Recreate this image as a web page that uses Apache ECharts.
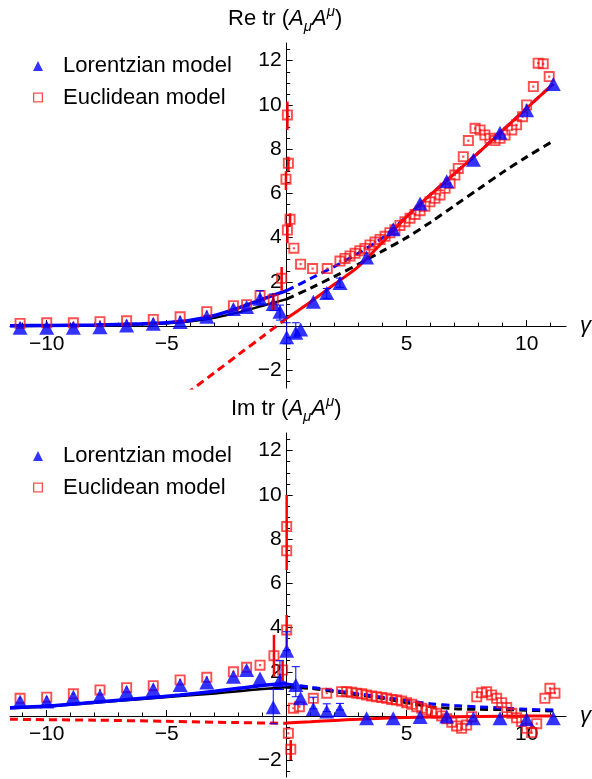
<!DOCTYPE html>
<html><head><meta charset="utf-8">
<script src="https://cdn.jsdelivr.net/npm/echarts@6/dist/echarts.min.js"></script>
<style>html,body{margin:0;padding:0;background:#fff}#c{width:592px;height:779px}</style>
</head><body><div id="c"></div>
<script>
// ---------------- data ----------------
const xMajorTicks = [-10, -5, 5, 10];
const xMinorTicks = [-11, -9, -8, -7, -6, -4, -3, -2, -1, 1, 2, 3, 4, 6, 7, 8, 9, 11];
const yMajorTicks = [-2, 2, 4, 6, 8, 10, 12];
const yMinorTicks = [-2.5, -1.5, -1, -0.5, 0.5, 1, 1.5, 2.5, 3, 3.5, 4.5, 5, 5.5, 6.5, 7, 7.5, 8.5, 9, 9.5, 10.5, 11, 11.5, 12.5];

// Lorentzian model (blue triangles), shared gamma values
const lorX   = [-11.11, -10, -8.89, -7.78, -6.67, -5.56, -4.44, -3.33, -2.22, -1.67, -1.11, -0.56, -0.28, 0, 0.38, 0.58, 1.11, 1.67, 2.22, 3.33, 4.44, 5.56, 6.67, 7.78, 8.89, 10, 11.11];
const lorReY = [-0.08, -0.08, -0.07, -0.05, 0.03, 0.1, 0.18, 0.42, 0.77, 0.86, 1.24, 1.0, 0.65, -0.5, -0.3, -0.15, 1.1, 1.5, 1.95, 3.1, 4.38, 5.54, 6.55, 7.52, 8.74, 9.76, 10.95];
const lorImY = [0.65, 0.65, 0.87, 0.9, 1.1, 1.21, 1.4, 1.51, 1.78, 2.08, 1.7, 0.4, 1.63, 2.95, 1.4, 0.8, 0.32, 0.2, 0.27, -0.1, -0.1, -0.05, -0.02, -0.1, -0.1, -0.15, -0.1];

const lorReErrX  = [-1.11, -0.56, -0.28, 0, 0.38, 1.67, 2.22];
const lorReErrLo = [1.0, 0.7, 0.27, -0.8, -0.5, 1.25, 1.75];
const lorReErrHi = [1.6, 1.45, 0.95, 0.15, 0.15, 1.7, 2.17];
const lorImErrX  = [-0.56, -0.28, 0, 0.38, 1.11, 1.67, 2.22];
const lorImErrLo = [-0.35, 1.2, 2.95, 0.87, 0.32, 0.2, 0.27];
const lorImErrHi = [1.2, 2.5, 3.81, 2.23, 0.85, 0.55, 0.57];

// Euclidean model (red squares)
const eucReX = [-11.11, -10, -8.89, -7.78, -6.67, -5.56, -4.44, -3.33, -2.22, -1.67, -1.11, -0.56, -0.21, -0.03, 0.03, 0.03, 0.07, 0.14, 0.3, 0.58, 1.08, 1.69,
  2.22, 2.43, 2.64, 2.85, 3.05, 3.26, 3.47, 3.68, 3.89, 4.10, 4.30, 4.51, 4.72, 4.93, 5.14, 5.35, 5.56, 5.76, 5.97, 6.18, 6.39, 6.60, 6.81, 7.01, 7.15,
  7.36, 7.57, 7.85, 8.06, 8.26, 8.47, 8.68, 8.89, 9.10, 9.38, 9.58, 9.83, 10.0, 10.28, 10.48, 10.69, 10.94];
const eucReY = [0.12, 0.15, 0.15, 0.2, 0.24, 0.3, 0.42, 0.65, 0.92, 0.97, 1.38, 1.2, 2.16, 6.64, 9.55, 4.34, 7.36, 4.83, 3.52, 2.8, 2.6, 2.6,
  2.94, 3.06, 3.17, 3.29, 3.41, 3.51, 3.67, 3.8, 3.92, 4.06, 4.22, 4.36, 4.55, 4.72, 4.88, 5.05, 5.22, 5.42, 5.62, 5.78, 5.93, 6.23, 6.46, 6.83, 7.13,
  7.66, 8.39, 8.94, 8.87, 8.64, 8.49, 8.39, 8.49, 8.64, 8.87, 9.1, 9.47, 10.0, 10.83, 11.89, 11.86, 11.28];
const eucReErrX  = [-0.56, -0.21, -0.03, 0.07, 0.03, 0.03, 0.14];
const eucReErrLo = [0.72, 1.6, 6.15, 7.0, 8.87, 3.75, 4.5];
const eucReErrHi = [1.5, 2.67, 7.0, 7.66, 10.15, 4.6, 5.1];

const eucImX = [-11.11, -10, -8.89, -7.78, -6.67, -5.56, -4.44, -3.33, -2.22, -1.67, -1.11, -0.53, -0.17, 0, 0, 0, 0.07, 0.17, 0.28, 0.53, 1.11, 1.67,
  2.29, 2.5, 2.71, 2.92, 3.13, 3.33, 3.54, 3.75, 3.96, 4.17, 4.38, 4.58, 4.79, 5.0, 5.21, 5.42, 5.63, 5.83, 6.04, 6.25, 6.46, 6.67, 6.88, 7.08, 7.29,
  7.5, 7.71, 7.92, 8.13, 8.33, 8.54, 8.75, 8.96, 9.17, 9.38, 9.58, 9.79, 10.0, 10.21, 10.42, 10.76, 10.97, 11.18];
const eucImY = [0.8, 0.85, 1.0, 1.18, 1.28, 1.37, 1.63, 1.75, 2.0, 2.2, 2.3, 2.73, 2.08, 3.89, 8.57, 7.47, -0.78, -1.51, 0.35, 0.42, 0.8, 1.03,
  1.1, 1.1, 1.07, 1.03, 1.0, 0.95, 0.9, 0.87, 0.84, 0.8, 0.75, 0.72, 0.68, 0.6, 0.53, 0.42, 0.35, 0.27, 0.2, 0.12, 0.0, -0.12, -0.28, -0.45, -0.56,
  -0.41, -0.03, 0.87, 1.05, 1.1, 0.95, 0.8, 0.6, 0.38, 0.12, -0.08, -0.25, -0.56, -0.75, -0.35, 0.8, 1.25, 1.03];
const eucImErrX  = [-0.53, -0.17, 0, 0, 0.17];
const eucImErrLo = [1.78, 1.6, 3.14, 6.6, -2.0];
const eucImErrHi = [3.67, 2.5, 4.57, 10.0, -1.09];

// Curves, real part
const reBlueSolidX   = [-11.53, -10, -8, -6, -5, -4, -3, -2, -1, 0];
const reBlueSolidY   = [0.02, 0.03, 0.05, 0.1, 0.15, 0.26, 0.48, 0.82, 1.22, 1.6];
const reBlackSolidX  = [-11.53, -10, -8, -6, -5, -4, -3, -2, -1, 0];
const reBlackSolidY  = [0.0, 0.01, 0.03, 0.08, 0.13, 0.22, 0.38, 0.62, 0.92, 1.22];
const reRedDashedX   = [-4.6, -3, -2, -1, 0];
const reRedDashedY   = [-3.4, -2.1, -1.28, -0.47, 0.35];
const reBlueDashedX  = [0, 1, 2, 3, 4, 5, 6, 7, 8, 9, 10, 11.11];
const reBlueDashedY  = [1.6, 2.15, 2.7, 3.3, 4.0, 4.95, 5.95, 6.9, 7.85, 8.85, 9.85, 10.95];
const reBlackDashedX = [0, 1, 2, 3, 4, 5, 6, 7, 8, 9, 10, 11];
const reBlackDashedY = [1.22, 1.72, 2.25, 2.8, 3.4, 4.0, 4.7, 5.45, 6.2, 6.95, 7.65, 8.3];
const reRedSolidX    = [0, 0.5, 1, 2, 3, 4, 5, 6, 7, 8, 9, 10, 11.11];
const reRedSolidY    = [0.35, 0.72, 1.1, 1.9, 2.7, 3.8, 4.95, 5.95, 6.9, 7.85, 8.85, 9.85, 10.95];

// Curves, imaginary part
const imBlueSolidX   = [-11.53, -10, -8, -6, -4.44, -3, -2, -1, 0];
const imBlueSolidY   = [0.37, 0.45, 0.62, 0.8, 0.95, 1.12, 1.25, 1.38, 1.48];
const imBlackSolidX  = [-11.53, -10, -8, -6, -4.44, -3, -2, -1, 0];
const imBlackSolidY  = [0.35, 0.43, 0.6, 0.77, 0.9, 1.02, 1.12, 1.22, 1.3];
const imRedDashedX   = [-11.53, -8, -5, -2, 0];
const imRedDashedY   = [-0.15, -0.19, -0.24, -0.3, -0.33];
const imBlueDashedX  = [0, 1, 2, 3, 4, 5, 6, 7, 8, 9, 10, 11.11];
const imBlueDashedY  = [1.45, 1.3, 1.15, 1.0, 0.85, 0.7, 0.55, 0.47, 0.41, 0.36, 0.3, 0.27];
const imBlackDashedX = [0, 1, 2, 3, 4, 5, 6, 7, 8, 9, 10, 11.11];
const imBlackDashedY = [1.3, 1.25, 1.1, 0.95, 0.8, 0.6, 0.42, 0.33, 0.3, 0.29, 0.26, 0.22];
const imRedSolidX    = [0, 1, 2, 3, 4, 5, 7, 9, 11.11];
const imRedSolidY    = [-0.32, -0.26, -0.2, -0.15, -0.1, -0.07, -0.03, -0.01, 0.0];

// ---------------- chart ----------------
const FONT = '"Liberation Sans", Arial, sans-serif';
const BLUE = '#0000ff', RED = '#ff0000';
const X_MIN = -11.53, X_MAX = 11.64;
const GRIDS = [
  { left: 10, top: 43, width: 556, height: 345, yMin: -2.8, yMax: 12.8 },
  { left: 10, top: 433, width: 556, height: 344, yMin: -2.76, yMax: 12.8 }
];
const SQ_SYMBOL = 'path://M0,0H10V10H0Z M1.7,1.7V8.3H8.3V1.7Z M4,4H6V6H4Z';
const SQ_ICON = 'path://M0,0H10V10H0Z M1.3,1.3V8.7H8.7V1.3Z';

function fmt(v) { return v < 0 ? '\u2212' + Math.abs(v) : String(v); }
function zip(xs, ys) { return xs.map((x, i) => [x, ys[i]]); }

// axis crossing: the x axis sits on y = 0, the y axis on x = 0
function xOffset(g) { return -(0 - g.yMin) / (g.yMax - g.yMin) * g.height; }
function yOffset(g) { return -(0 - X_MIN) / (X_MAX - X_MIN) * g.width; }

function mkX(gi, major) {
  const g = GRIDS[gi];
  return {
    type: 'value', gridIndex: gi, min: X_MIN, max: X_MAX, position: 'bottom', offset: xOffset(g),
    splitLine: { show: false },
    axisLine: { show: major, onZero: false, lineStyle: { color: '#000', width: 1 } },
    axisTick: { show: true, inside: true, length: major ? 6 : 3.5, customValues: major ? xMajorTicks : xMinorTicks, lineStyle: { color: '#000', width: 1 } },
    axisLabel: { show: major, customValues: xMajorTicks, formatter: fmt, fontSize: 21, fontFamily: FONT, color: '#000', margin: 8 },
    name: major ? 'γ' : '', nameLocation: 'end', nameGap: 14,
    nameTextStyle: { fontSize: 22, fontStyle: 'italic', fontFamily: FONT, color: '#000' }
  };
}
function mkY(gi, major) {
  const g = GRIDS[gi];
  return {
    type: 'value', gridIndex: gi, min: g.yMin, max: g.yMax, position: 'left', offset: yOffset(g),
    splitLine: { show: false },
    axisLine: { show: major, onZero: false, lineStyle: { color: '#000', width: 1 } },
    axisTick: { show: true, inside: true, length: major ? 6 : 3.5, customValues: major ? yMajorTicks : yMinorTicks, lineStyle: { color: '#000', width: 1 } },
    axisLabel: { show: major, customValues: yMajorTicks, formatter: fmt, fontSize: 21, fontFamily: FONT, color: '#000', margin: 5 }
  };
}
function lineS(xs, ys, color, width, dashed, ai) {
  return { type: 'line', xAxisIndex: ai, yAxisIndex: ai, data: zip(xs, ys), showSymbol: false, symbol: 'none',
    smooth: 0.3, clip: true, silent: true, z: 2,
    lineStyle: { color, width, type: dashed ? [8, 5] : 'solid', cap: 'butt' }, itemStyle: { color } };
}
function errS(xs, lo, hi, color, width, cap, ai) {
  return {
    type: 'custom', xAxisIndex: ai, yAxisIndex: ai, z: 5, silent: true,
    encode: { x: 0, y: [1, 2] },
    data: xs.map((x, i) => [x, lo[i], hi[i]]),
    renderItem: function (params, api) {
      const x = api.value(0);
      const a = api.coord([x, api.value(1)]);
      const b = api.coord([x, api.value(2)]);
      const st = { stroke: color, lineWidth: width };
      const ch = [{ type: 'line', shape: { x1: a[0], y1: a[1], x2: b[0], y2: b[1] }, style: st }];
      if (cap) {
        const cs = { stroke: color, lineWidth: 1 };
        ch.push({ type: 'line', shape: { x1: a[0] - cap, y1: a[1], x2: a[0] + cap, y2: a[1] }, style: cs });
        ch.push({ type: 'line', shape: { x1: b[0] - cap, y1: b[1], x2: b[0] + cap, y2: b[1] }, style: cs });
      }
      return { type: 'group', children: ch };
    }
  };
}
function eucS(xs, ys, ai) {
  return { type: 'scatter', name: 'Euclidean model', xAxisIndex: ai, yAxisIndex: ai, data: zip(xs, ys),
    symbol: SQ_SYMBOL, symbolSize: 11, z: 3, itemStyle: { color: 'rgba(255,15,15,0.92)' } };
}
function lorS(xs, ys, ai) {
  return { type: 'scatter', name: 'Lorentzian model', xAxisIndex: ai, yAxisIndex: ai, data: zip(xs, ys),
    symbol: 'triangle', symbolSize: [15, 14], z: 4, itemStyle: { color: BLUE } };
}
function titleText(prefix) {
  return '{n|' + prefix + ' tr (}{i|A}{sub|μ}{i|A}{sup|μ}{n|)}';
}
const RICH = {
  n: { fontSize: 22, fontFamily: FONT, fontWeight: 'normal', color: '#000', lineHeight: 30 },
  i: { fontSize: 22, fontFamily: FONT, fontWeight: 'normal', fontStyle: 'italic', color: '#000', lineHeight: 30 },
  sub: { fontSize: 15, fontFamily: FONT, fontWeight: 'normal', fontStyle: 'italic', color: '#000', lineHeight: 21, verticalAlign: 'bottom' },
  sup: { fontSize: 15, fontFamily: FONT, fontWeight: 'normal', fontStyle: 'italic', color: '#000', lineHeight: 16, verticalAlign: 'top' }
};
function legendAt(top) {
  return {
    data: [{ name: 'Lorentzian model', icon: 'triangle' }, { name: 'Euclidean model', icon: SQ_ICON }],
    orient: 'vertical', left: 33, top, padding: 0, itemGap: 7.5, itemWidth: 10, itemHeight: 10,
    selectedMode: false,
    textStyle: { fontSize: 22, fontFamily: FONT, color: '#000', lineHeight: 24, padding: [0, 0, 0, 15] }
  };
}

const chart = echarts.init(document.getElementById('c'), null, { renderer: 'canvas' });
chart.setOption({
  animation: false,
  backgroundColor: '#fff',
  title: [
    { text: titleText('Re'), left: 228, top: 4, padding: 0, textStyle: { fontWeight: 'normal', rich: RICH } },
    { text: titleText('Im'), left: 231, top: 394, padding: 0, textStyle: { fontWeight: 'normal', rich: RICH } }
  ],
  legend: [legendAt(54), legendAt(444)],
  grid: GRIDS.map(g => ({ left: g.left, top: g.top, width: g.width, height: g.height, outerBoundsMode: 'none' })),
  xAxis: [mkX(0, true), mkX(0, false), mkX(1, true), mkX(1, false)],
  yAxis: [mkY(0, true), mkY(0, false), mkY(1, true), mkY(1, false)],
  series: [
    lineS(reRedDashedX, reRedDashedY, RED, 3, true, 0),
    lineS(reBlackSolidX, reBlackSolidY, '#000', 2.5, false, 0),
    lineS(reBlueSolidX, reBlueSolidY, BLUE, 3.5, false, 0),
    lineS(reBlackDashedX, reBlackDashedY, '#000', 3, true, 0),
    lineS(reBlueDashedX, reBlueDashedY, BLUE, 3, true, 0),
    lineS(reRedSolidX, reRedSolidY, RED, 3, false, 0),
    eucS(eucReX, eucReY, 0),
    lorS(lorX, lorReY, 0),
    errS(eucReErrX, eucReErrLo, eucReErrHi, RED, 2.5, 0, 0),
    errS(lorReErrX, lorReErrLo, lorReErrHi, BLUE, 1, 4, 0),

    lineS(imRedDashedX, imRedDashedY, RED, 3, true, 2),
    lineS(imBlackSolidX, imBlackSolidY, '#000', 2.5, false, 2),
    lineS(imBlueSolidX, imBlueSolidY, BLUE, 3.5, false, 2),
    lineS(imBlackDashedX, imBlackDashedY, '#000', 3, true, 2),
    lineS(imBlueDashedX, imBlueDashedY, BLUE, 3, true, 2),
    lineS(imRedSolidX, imRedSolidY, RED, 3, false, 2),
    eucS(eucImX, eucImY, 2),
    lorS(lorX, lorImY, 2),
    errS(eucImErrX, eucImErrLo, eucImErrHi, RED, 2.5, 0, 2),
    errS(lorImErrX, lorImErrLo, lorImErrHi, BLUE, 1, 4, 2)
  ]
});
</script>
</body></html>
